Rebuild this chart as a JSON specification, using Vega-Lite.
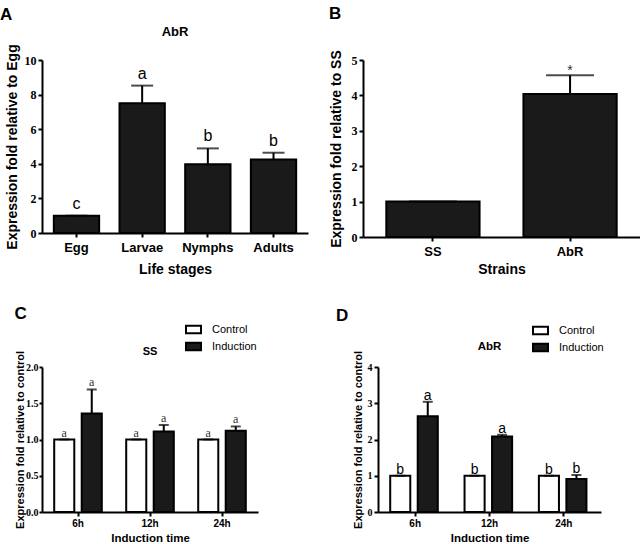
{
  "$schema": "https://vega.github.io/schema/vega-lite/v6.json",
  "background": "white",
  "padding": {"left": 0, "top": 4, "right": 0, "bottom": 0},
  "config": {
    "view": {"stroke": null},
    "font": "Liberation Sans",
    "axis": {"domainColor": "black", "domainWidth": 2, "tickColor": "black", "tickWidth": 2, "tickSize": 4, "grid": false, "labelColor": "black", "titleColor": "black", "titleFontWeight": "bold", "titleFont": "Liberation Sans", "labelOverlap": false},
    "axisX": {"labelAngle": 0, "labelFontWeight": "bold", "labelFont": "Liberation Sans"},
    "axisY": {"labelFont": "Liberation Serif", "labelFontWeight": "bold", "labelPadding": 2},
    "title": {"color": "black", "fontWeight": "bold", "font": "Liberation Sans"}
  },
  "resolve": {"scale": {"fill": "independent"}, "legend": {"fill": "independent"}},
  "datasets": {
    "stages": [
      {"stage": "Egg", "value": 1.0, "err": 1.0, "label": "c"},
      {"stage": "Larvae", "value": 7.5, "err": 8.52, "label": "a"},
      {"stage": "Nymphs", "value": 3.97, "err": 4.89, "label": "b"},
      {"stage": "Adults", "value": 4.25, "err": 4.64, "label": "b"}
    ],
    "strains": [
      {"strain": "SS", "value": 1.0, "err": 1.0, "label": ""},
      {"strain": "AbR", "value": 4.04, "err": 4.57, "label": "*"}
    ],
    "ss": [
      {"time": "6h", "group": "Control", "value": 1.0, "err": 1.0, "label": "a"},
      {"time": "6h", "group": "Induction", "value": 1.36, "err": 1.69, "label": "a"},
      {"time": "12h", "group": "Control", "value": 1.0, "err": 1.0, "label": "a"},
      {"time": "12h", "group": "Induction", "value": 1.11, "err": 1.2, "label": "a"},
      {"time": "24h", "group": "Control", "value": 1.0, "err": 1.0, "label": "a"},
      {"time": "24h", "group": "Induction", "value": 1.12, "err": 1.18, "label": "a"}
    ],
    "abr": [
      {"time": "6h", "group": "Control", "value": 1.0, "err": 1.0, "label": "b"},
      {"time": "6h", "group": "Induction", "value": 2.64, "err": 3.04, "label": "a"},
      {"time": "12h", "group": "Control", "value": 1.0, "err": 1.0, "label": "b"},
      {"time": "12h", "group": "Induction", "value": 2.08, "err": 2.13, "label": "a"},
      {"time": "24h", "group": "Control", "value": 1.0, "err": 1.0, "label": "b"},
      {"time": "24h", "group": "Induction", "value": 0.91, "err": 1.02, "label": "b"}
    ]
  },
  "spacing": 29,
  "vconcat": [
    {
      "spacing": 21,
      "hconcat": [
        {
          "title": {"text": "A", "anchor": "start", "fontSize": 17, "offset": 2, "dx": -5},
          "hconcat": [
            {
              "width": 266, "height": 173,
              "title": {"text": "AbR", "fontSize": 13, "offset": 5},
              "data": {"name": "stages"},
              "encoding": {
                "x": {"field": "stage", "type": "nominal", "sort": null, "scale": {"paddingInner": 0.31, "paddingOuter": 0.18},
                      "axis": {"title": "Life stages", "labelFontSize": 13, "titleFontSize": 14, "labelPadding": 4, "titlePadding": 8}}
              },
              "layer": [
                {"mark": {"type": "bar", "fill": "#1a1a1a", "stroke": "black", "strokeWidth": 2},
                 "encoding": {"y": {"field": "value", "type": "quantitative", "scale": {"domain": [0, 10]},
                   "axis": {"values": [0, 2, 4, 6, 8, 10], "title": "Expression fold relative to Egg", "labelFontSize": 12, "titleFontSize": 14, "titlePadding": 5}}}},
                {"mark": {"type": "rule", "color": "black", "strokeWidth": 2},
                 "encoding": {"y": {"field": "value", "type": "quantitative",
                   "axis": {"values": [0, 2, 4, 6, 8, 10], "title": "Expression fold relative to Egg", "labelFontSize": 12, "titleFontSize": 14, "titlePadding": 5}}, "y2": {"field": "err"}}},
                {"mark": {"type": "tick", "color": "black", "thickness": 2, "size": 22},
                 "encoding": {"y": {"field": "err", "type": "quantitative",
                   "axis": {"values": [0, 2, 4, 6, 8, 10], "title": "Expression fold relative to Egg", "labelFontSize": 12, "titleFontSize": 14, "titlePadding": 5}}}},
                {"mark": {"type": "text", "fontSize": 16, "dy": -12, "color": "black"},
                 "encoding": {"y": {"field": "err", "type": "quantitative",
                   "axis": {"values": [0, 2, 4, 6, 8, 10], "title": "Expression fold relative to Egg", "labelFontSize": 12, "titleFontSize": 14, "titlePadding": 5}}, "text": {"field": "label"}}}
              ]
            }
          ]
        },
        {
          "title": {"text": "B", "anchor": "start", "fontSize": 17, "offset": 27},
          "hconcat": [
            {
              "width": 277, "height": 177,
              "data": {"name": "strains"},
              "encoding": {
                "x": {"field": "strain", "type": "nominal", "sort": null, "scale": {"paddingInner": 0.32, "paddingOuter": 0.17},
                      "axis": {"title": "Strains", "labelFontSize": 13, "titleFontSize": 14, "labelPadding": 4, "titlePadding": 4}}
              },
              "layer": [
                {"mark": {"type": "bar", "fill": "#1a1a1a", "stroke": "black", "strokeWidth": 2},
                 "encoding": {"y": {"field": "value", "type": "quantitative", "scale": {"domain": [0, 5]},
                   "axis": {"values": [0, 1, 2, 3, 4, 5], "title": "Expression fold relative to SS", "labelFontSize": 12, "titleFontSize": 14, "titlePadding": 8}}}},
                {"mark": {"type": "rule", "color": "black", "strokeWidth": 2},
                 "encoding": {"y": {"field": "value", "type": "quantitative",
                   "axis": {"values": [0, 1, 2, 3, 4, 5], "title": "Expression fold relative to SS", "labelFontSize": 12, "titleFontSize": 14, "titlePadding": 8}}, "y2": {"field": "err"}}},
                {"mark": {"type": "tick", "color": "black", "thickness": 2, "size": 48},
                 "encoding": {"y": {"field": "err", "type": "quantitative",
                   "axis": {"values": [0, 1, 2, 3, 4, 5], "title": "Expression fold relative to SS", "labelFontSize": 12, "titleFontSize": 14, "titlePadding": 8}}}},
                {"mark": {"type": "text", "fontSize": 14, "dy": -4, "color": "#333"},
                 "encoding": {"y": {"field": "err", "type": "quantitative",
                   "axis": {"values": [0, 1, 2, 3, 4, 5], "title": "Expression fold relative to SS", "labelFontSize": 12, "titleFontSize": 14, "titlePadding": 8}}, "text": {"field": "label"}}}
              ]
            }
          ]
        }
      ]
    },
    {
      "spacing": 77,
      "resolve": {"scale": {"fill": "independent"}, "legend": {"fill": "independent"}},
      "hconcat": [
        {
          "title": {"text": "C", "anchor": "start", "fontSize": 17, "offset": -2},
          "hconcat": [
            {
              "width": 216, "height": 145,
              "title": {"text": "SS", "fontSize": 11, "offset": -6, "frame": "group"},
              "data": {"name": "ss"},
              "encoding": {
                "x": {"field": "time", "type": "nominal", "sort": null, "scale": {"paddingInner": 0, "paddingOuter": 0},
                      "axis": {"title": "Induction time", "labelFontSize": 10, "titleFontSize": 11.5, "labelPadding": 2, "titlePadding": 4}},
                "xOffset": {"field": "group", "type": "nominal", "sort": null, "scale": {"paddingInner": 0.27, "paddingOuter": 0.444}}
              },
              "layer": [
                {"mark": {"type": "bar", "stroke": "black", "strokeWidth": 2},
                 "encoding": {
                   "y": {"field": "value", "type": "quantitative", "scale": {"domain": [0, 2]},
                     "axis": {"values": [0, 0.5, 1, 1.5, 2], "format": ".1f", "title": "Expression fold relative to control", "labelFontSize": 10, "titleFontSize": 11, "titlePadding": 0, "labelPadding": 1, "tickSize": 3}},
                   "fill": {"field": "group", "type": "nominal", "sort": null, "scale": {"domain": ["Control", "Induction"], "range": ["white", "#1a1a1a"]},
                     "legend": {"orient": "none", "legendX": 143, "legendY": -46, "title": null, "symbolType": "M-1,-0.5H1V0.5H-1Z", "symbolSize": 225, "symbolStrokeColor": "black", "symbolStrokeWidth": 2, "symbolOpacity": 1, "labelFontSize": 11, "labelOffset": 10, "rowPadding": 0, "padding": 0, "labelColor": "black"}}
                 }},
                {"mark": {"type": "rule", "color": "black", "strokeWidth": 2},
                 "encoding": {"y": {"field": "value", "type": "quantitative",
                   "axis": {"values": [0, 0.5, 1, 1.5, 2], "format": ".1f", "title": "Expression fold relative to control", "labelFontSize": 10, "titleFontSize": 11, "titlePadding": 0, "labelPadding": 1, "tickSize": 3}}, "y2": {"field": "err"}}},
                {"mark": {"type": "tick", "color": "black", "thickness": 2, "size": 10},
                 "encoding": {"y": {"field": "err", "type": "quantitative",
                   "axis": {"values": [0, 0.5, 1, 1.5, 2], "format": ".1f", "title": "Expression fold relative to control", "labelFontSize": 10, "titleFontSize": 11, "titlePadding": 0, "labelPadding": 1, "tickSize": 3}}}},
                {"mark": {"type": "text", "fontSize": 12, "dy": -7, "color": "#333", "font": "Liberation Serif"},
                 "encoding": {"y": {"field": "err", "type": "quantitative",
                   "axis": {"values": [0, 0.5, 1, 1.5, 2], "format": ".1f", "title": "Expression fold relative to control", "labelFontSize": 10, "titleFontSize": 11, "titlePadding": 0, "labelPadding": 1, "tickSize": 3}}, "text": {"field": "label"}}}
              ]
            }
          ]
        },
        {
          "title": {"text": "D", "anchor": "start", "fontSize": 17, "offset": -3, "dx": -16},
          "hconcat": [
            {
              "width": 223, "height": 145,
              "title": {"text": "AbR", "fontSize": 11.5, "offset": -2, "frame": "group"},
              "data": {"name": "abr"},
              "encoding": {
                "x": {"field": "time", "type": "nominal", "sort": null, "scale": {"paddingInner": 0, "paddingOuter": 0},
                      "axis": {"title": "Induction time", "labelFontSize": 10, "titleFontSize": 11.5, "labelPadding": 2, "titlePadding": 4}},
                "xOffset": {"field": "group", "type": "nominal", "sort": null, "scale": {"paddingInner": 0.25, "paddingOuter": 0.525}}
              },
              "layer": [
                {"mark": {"type": "bar", "stroke": "black", "strokeWidth": 2},
                 "encoding": {
                   "y": {"field": "value", "type": "quantitative", "scale": {"domain": [0, 4]},
                     "axis": {"values": [0, 1, 2, 3, 4], "title": "Expression fold relative to control", "labelFontSize": 10, "titleFontSize": 11, "titlePadding": 4}},
                   "fill": {"field": "group", "type": "nominal", "sort": null, "scale": {"domain": ["Control", "Induction"], "range": ["white", "#1a1a1a"]},
                     "legend": {"orient": "none", "legendX": 154, "legendY": -45, "title": null, "symbolType": "M-1,-0.5H1V0.5H-1Z", "symbolSize": 225, "symbolStrokeColor": "black", "symbolStrokeWidth": 2, "symbolOpacity": 1, "labelFontSize": 11, "labelOffset": 10, "rowPadding": 0, "padding": 0, "labelColor": "black"}}
                 }},
                {"mark": {"type": "rule", "color": "black", "strokeWidth": 2},
                 "encoding": {"y": {"field": "value", "type": "quantitative",
                   "axis": {"values": [0, 1, 2, 3, 4], "title": "Expression fold relative to control", "labelFontSize": 10, "titleFontSize": 11, "titlePadding": 4}}, "y2": {"field": "err"}}},
                {"mark": {"type": "tick", "color": "black", "thickness": 2, "size": 10},
                 "encoding": {"y": {"field": "err", "type": "quantitative",
                   "axis": {"values": [0, 1, 2, 3, 4], "title": "Expression fold relative to control", "labelFontSize": 10, "titleFontSize": 11, "titlePadding": 4}}}},
                {"mark": {"type": "text", "fontSize": 14, "dy": -6, "color": "black"},
                 "encoding": {"y": {"field": "err", "type": "quantitative",
                   "axis": {"values": [0, 1, 2, 3, 4], "title": "Expression fold relative to control", "labelFontSize": 10, "titleFontSize": 11, "titlePadding": 4}}, "text": {"field": "label"}}}
              ]
            }
          ]
        }
      ]
    }
  ]
}
